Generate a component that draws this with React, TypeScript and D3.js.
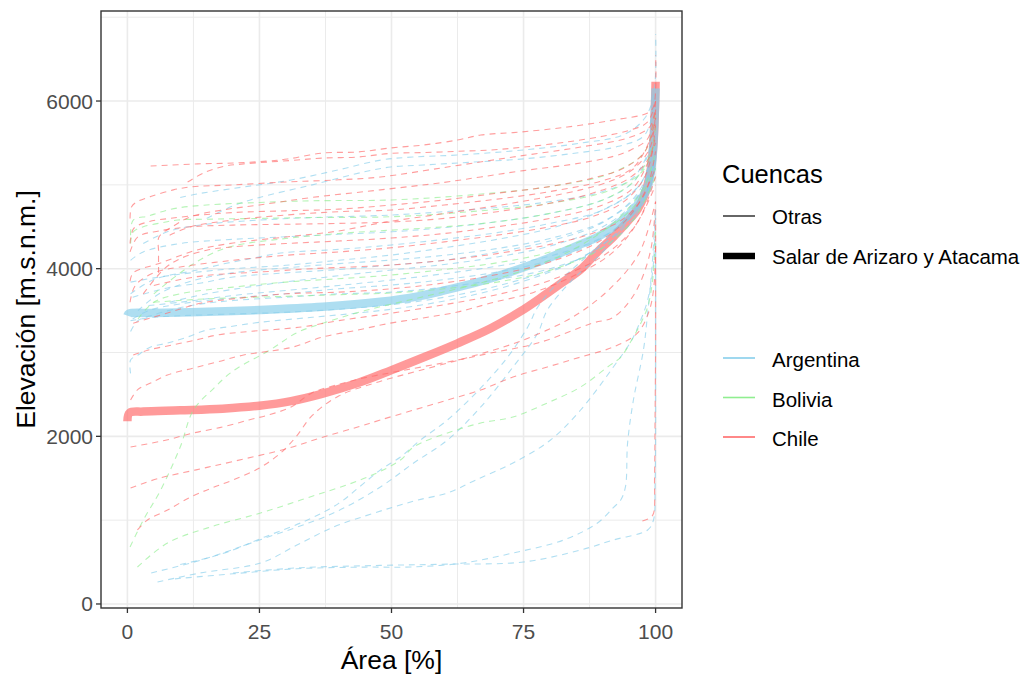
import React from "react";
import * as d3 from "d3";

type Pt = [number, number];

// Hypsometric curves: [area %, elevation m a.s.l.]
const argentinaBasins: Pt[][] = [
  [[0.6, 2750], [0.6, 2910], [2, 2970], [4.4, 3066], [7.6, 3113], [11.4, 3185], [15, 3268], [19, 3305], [25, 3360], [35, 3420], [45, 3480], [55, 3560], [65, 3680], [75, 3850], [85, 4100], [93, 4450], [98, 4900], [100, 5400]],
  [[0.6, 3250], [2, 3380], [5, 3450], [9, 3520], [14, 3580], [20, 3620], [30, 3660], [40, 3700], [50, 3720], [60, 3780], [70, 3870], [80, 4000], [90, 4250], [96, 4600], [100, 5200]],
  [[0.6, 3840], [6, 3900], [12, 3950], [20, 4000], [30, 4040], [40, 4100], [50, 4163], [60, 4250], [70, 4350], [80, 4480], [90, 4700], [97, 5000], [100, 5500]],
  [[1, 3660], [7.6, 3770], [14, 3830], [20, 3900], [30, 3950], [40, 3990], [50, 4044], [60, 4100], [70, 4200], [80, 4330], [90, 4550], [97, 4900], [100, 5300]],
  [[4, 3560], [10, 3600], [20, 3680], [30, 3740], [40, 3800], [50, 3865], [60, 3940], [70, 4030], [80, 4150], [90, 4380], [97, 4750], [100, 5200]],
  [[0.6, 3700], [5, 3870], [13.3, 3984], [19, 4068], [24, 4127], [29, 4187], [40, 4230], [50, 4283], [60, 4350], [70, 4430], [80, 4540], [90, 4700], [97, 5000], [100, 5500]],
  [[10, 4850], [14, 4900], [22, 4975], [31, 5058], [40, 5180], [48, 5296], [54, 5332], [62.5, 5356], [75, 5416], [86, 5500], [94, 5600], [98, 5800], [99.7, 6100], [100, 6800]],
  [[15, 4600], [20, 4750], [25, 4850], [35, 5000], [44.7, 5153], [49.8, 5213], [56, 5237], [65, 5270], [75, 5310], [85, 5380], [93, 5460], [98, 5600], [100, 6100]],
  [[3, 4300], [8, 4450], [15, 4530], [25, 4580], [35, 4610], [50, 4640], [60, 4680], [70, 4730], [80, 4800], [90, 4920], [96, 5100], [100, 5600]],
  [[2, 3500], [6, 3700], [12, 3850], [20, 3950], [30, 4010], [40, 4060], [50, 4103], [60, 4160], [70, 4240], [80, 4360], [90, 4560], [96, 4850], [100, 5300]],
  [[1, 3400], [4, 3500], [10, 3580], [20, 3650], [30, 3700], [40, 3760], [50, 3805], [60, 3870], [70, 3960], [80, 4100], [88, 4300], [95, 4620], [99, 5000], [100, 5400]],
  [[8, 3600], [15, 3700], [25, 3800], [35, 3880], [50, 3984], [60, 4050], [70, 4140], [80, 4270], [90, 4500], [96, 4800], [100, 5300]],
  [[0.6, 4100], [3, 4200], [10, 4300], [20, 4350], [30, 4380], [40, 4410], [50, 4440], [60, 4490], [70, 4560], [80, 4660], [90, 4820], [96, 5050], [100, 5600]],
  [[0.6, 3380], [5, 3420], [15, 3450], [30, 3480], [45, 3540], [55, 3610], [65, 3720], [75, 3880], [85, 4100], [92, 4380], [97, 4700], [100, 5200]],
  [[4.5, 370], [14, 525], [25, 763], [39, 1085], [47.9, 1396], [54.2, 1682], [60.6, 1956], [66.9, 2350], [73, 2827], [77.7, 3233], [79.5, 3507], [84, 3850], [90, 4200], [95, 4600], [99, 5000], [100, 5500]],
  [[5.7, 262], [13.8, 370], [25.2, 489], [32, 700], [39, 918], [45, 1050], [50.4, 1157], [55, 1240], [60.6, 1324], [66, 1480], [73, 1682], [80, 1950], [85.8, 2314], [92, 2827], [95.5, 3150], [97.2, 3388], [98.5, 3626], [99.5, 4000], [100, 4700]],
  [[10, 470], [18, 600], [26, 800], [34, 1000], [40, 1200], [44, 1400], [47.9, 1600], [51.7, 1754], [55.5, 1956], [60.6, 2195], [66.9, 2577], [72, 2946], [75.8, 3305], [77.7, 3543], [81, 3800], [87, 4150], [93, 4500], [98, 4900], [100, 5300]],
  [[9, 300], [20, 360], [32, 420], [45, 440], [53.6, 441], [63.6, 489], [73, 608], [82.6, 763], [89, 966], [92, 1150], [93.4, 1240], [94.3, 1400], [94.7, 1920], [95.8, 2433], [97.7, 3030], [98.5, 3471], [99.3, 4000], [100, 4700]],
  [[20, 370], [32.8, 433], [47.9, 460], [60.6, 475], [75, 501], [85.8, 644], [92, 763], [98.5, 883], [99.6, 1002], [99.9, 1400], [100, 2040], [100, 2600], [100, 3400], [100, 4300]],
];

const boliviaBasins: Pt[][] = [
  [[0.5, 680], [3, 1000], [6.3, 1360], [10, 1873], [12.5, 2314], [16.3, 2570], [20, 2780], [27, 3030], [32, 3233], [37, 3350], [45, 3500], [55, 3650], [65, 3800], [75, 3980], [85, 4250], [93, 4600], [98, 5000], [100, 5400]],
  [[1.9, 441], [7.6, 728], [15.7, 918], [25.2, 1085], [32.8, 1240], [45.5, 1515], [51.7, 1718], [54.2, 1873], [60.6, 2040], [66.9, 2159], [73, 2230], [79.5, 2398], [85.8, 2589], [90.9, 2827], [93.4, 2946], [95.8, 3185], [97.2, 3350], [98.5, 3543], [99.5, 3900], [100, 4500]],
  [[0.6, 4400], [1.1, 4580], [4, 4628], [6.3, 4676], [9.5, 4724], [15, 4760], [25, 4790], [35, 4810], [50, 4820], [65, 4880], [80, 4980], [92, 5150], [98, 5400], [100, 5900]],
  [[0.6, 4300], [1.1, 4440], [3, 4500], [6.3, 4545], [9.5, 4580], [15, 4590], [25, 4600], [35, 4610], [50, 4620], [65, 4680], [80, 4780], [92, 4950], [98, 5200], [100, 5700]],
  [[5, 3700], [10, 3950], [15, 4150], [20, 4270], [30, 4360], [40, 4420], [50, 4460], [60, 4500], [70, 4560], [80, 4660], [90, 4820], [96, 5050], [100, 5500]],
  [[2, 3400], [5, 3600], [10, 3700], [20, 3780], [30, 3840], [40, 3880], [50, 3925], [60, 3990], [70, 4070], [80, 4200], [90, 4450], [96, 4750], [100, 5200]],
  [[5, 3600], [15, 3640], [30, 3670], [40, 3690], [50, 3710], [60, 3760], [70, 3840], [80, 3980], [90, 4250], [96, 4600], [100, 5100]],
];

const chileBasins: Pt[][] = [
  [[4.4, 5225], [13.3, 5250], [20, 5260], [26.5, 5284], [30.3, 5308], [37, 5380], [43.6, 5392], [49.8, 5440], [56, 5475], [62.5, 5535], [66.9, 5594], [74.4, 5630], [83.3, 5690], [92, 5773], [98.5, 5857], [99.6, 5930], [100, 6550]],
  [[11.4, 5034], [14.4, 5141], [18.2, 5220], [22, 5250], [30.9, 5290], [37, 5320], [43.6, 5332], [49.8, 5375], [56, 5385], [62.5, 5400], [68.8, 5416], [75, 5450], [83, 5510], [90, 5580], [95, 5650], [98.5, 5750], [100, 6000]],
  [[0.5, 4600], [0.8, 4740], [1.9, 4800], [4.4, 4860], [8.7, 4940], [12, 4975], [20, 5000], [30, 5034], [40, 5060], [47.9, 5094], [60.6, 5213], [73, 5332], [85.8, 5451], [95.3, 5570], [99, 5700], [100, 6000]],
  [[5.9, 3950], [5.9, 4200], [6, 4380], [8.5, 4500], [12, 4620], [18, 4700], [25, 4760], [35, 4850], [47.9, 4940], [60, 5030], [66.9, 5094], [75, 5170], [85.8, 5260], [92, 5340], [95.3, 5416], [98.5, 5550], [100, 5900]],
  [[0.5, 4300], [1.2, 4480], [4, 4560], [8, 4600], [14, 4640], [20, 4670], [30, 4690], [40, 4710], [50, 4760], [60, 4820], [70, 4900], [80, 4980], [88, 5080], [94, 5200], [98, 5400], [100, 5800]],
  [[0.5, 3850], [1.1, 3950], [6.3, 4068], [13, 4220], [20, 4306], [30, 4378], [40, 4450], [47.9, 4545], [60.6, 4664], [73, 4783], [85.8, 4940], [92, 5058], [96, 5200], [99, 5450], [100, 5900]],
  [[1.1, 3350], [4.4, 3412], [7.6, 3471], [10.6, 3530], [14, 3590], [20, 3640], [30, 3700], [40, 3720], [50, 3760], [60, 3830], [70, 3930], [80, 4080], [90, 4350], [96, 4700], [100, 5200]],
  [[0.6, 2433], [2, 2560], [4.4, 2636], [7.6, 2732], [12.5, 2815], [17, 2887], [22, 2970], [31, 3060], [37, 3185], [43.6, 3268], [49.8, 3350], [56, 3412], [62.5, 3483], [68.8, 3590], [77, 3720], [85, 3930], [92, 4200], [97, 4600], [100, 5100]],
  [[1.1, 2970], [4, 3030], [8.5, 3090], [13, 3150], [17, 3209], [22, 3245], [33, 3305], [40, 3380], [50, 3470], [60, 3570], [70, 3690], [80, 3860], [90, 4150], [96, 4500], [100, 5000]],
  [[0.6, 1873], [7, 1950], [12.5, 2040], [18, 2111], [23, 2195], [27, 2260], [31, 2350], [35, 2520], [40, 2620], [45, 2700], [50, 2760], [62.5, 2910], [68.8, 2994], [77.7, 3113], [88, 3350], [92, 3420], [96, 3700], [99, 4200], [100, 4800]],
  [[0.6, 1384], [6, 1500], [13, 1600], [20, 1700], [30, 1850], [37, 1990], [43.6, 2111], [47.9, 2195], [54.2, 2314], [60.6, 2433], [66.9, 2553], [73, 2708], [79.5, 2827], [85.8, 2946], [92, 3066], [96.6, 3233], [98.8, 3500], [99.7, 3800], [100, 4300]],
  [[1.9, 883], [3.8, 1002], [7.6, 1121], [12, 1276], [16, 1384], [20, 1480], [25, 1622], [29, 1800], [32, 2000], [35, 2250], [40, 2480], [47, 2640], [55, 2780], [65, 2950], [75, 3150], [85, 3450], [92, 3800], [97, 4200], [100, 4800]],
  [[0.5, 3600], [1.5, 3800], [5, 3950], [10, 4020], [20, 4100], [30, 4160], [40, 4200], [50, 4250], [60, 4320], [70, 4400], [80, 4500], [88, 4620], [94, 4800], [98, 5100], [100, 5600]],
  [[5, 3800], [10, 3870], [15, 3920], [25, 3960], [35, 4000], [50, 4044], [60, 4100], [70, 4180], [80, 4290], [88, 4420], [94, 4600], [98, 4900], [100, 5400]],
  [[0.5, 4200], [2, 4380], [6, 4450], [12, 4500], [20, 4520], [30, 4530], [40, 4540], [50, 4557], [60, 4600], [70, 4680], [80, 4780], [88, 4900], [95, 5080], [99, 5350], [100, 5800]],
  [[3, 3700], [7, 4000], [10, 4120], [15, 4220], [20, 4260], [30, 4300], [40, 4330], [50, 4366], [60, 4420], [70, 4500], [80, 4600], [90, 4760], [96, 4980], [100, 5500]],
  [[8, 4400], [12, 4500], [20, 4580], [30, 4640], [40, 4680], [50, 4700], [60, 4760], [70, 4830], [80, 4920], [90, 5050], [96, 5220], [100, 5700]],
  [[97.5, 990], [99, 1030], [99.6, 1080], [99.8, 1500], [99.9, 2200], [100, 3000], [100, 3600], [100, 4000], [100, 4600]],
];

// Highlighted basins
const salarArizaro: Pt[] = [[0, 3440], [0.3, 3465], [5, 3470], [12, 3480], [25, 3507], [37, 3545], [47.9, 3605], [55, 3670], [60, 3740], [66.9, 3850], [72, 3950], [79.5, 4120], [85, 4270], [89, 4378], [92.5, 4520], [95.3, 4664], [97, 4800], [98.5, 4974], [99.3, 5250], [99.6, 5500], [100, 6150]];
const salarAtacama: Pt[] = [[0, 2180], [0.4, 2280], [3, 2295], [10, 2310], [18, 2330], [25, 2365], [31, 2420], [37, 2510], [43.6, 2636], [50, 2790], [56, 2940], [62.5, 3110], [68.8, 3290], [74.4, 3490], [78.2, 3650], [82, 3820], [85.8, 3990], [89, 4200], [92, 4378], [94.5, 4550], [96.6, 4710], [98, 4900], [99, 5150], [99.6, 5500], [100, 6230]];

const xTicks = [0, 25, 50, 75, 100];
const xMinor = [12.5, 37.5, 62.5, 87.5];
const yTicks = [0, 2000, 4000, 6000];
const yMinor = [1000, 3000, 5000, 7000];

const countries = ["Argentina", "Bolivia", "Chile"];
const countryColors = ["#87CEEB", "#90EE90", "#FF6A6A"];
const widthLabels = ["Otras", "Salar de Arizaro y Atacama"];

const FONT = "'Liberation Sans', Arial, Helvetica, sans-serif";

export default function App() {
  const W = 1030;
  const H = 678;
  const left = 101;
  const right = 682;
  const top = 11;
  const bottom = 608;

  const x = d3.scaleLinear().domain([-5, 105]).range([left, right]);
  const y = d3.scaleLinear().domain([-48, 7074]).range([bottom, top]);

  const line = d3
    .line<Pt>()
    .x((d) => x(d[0]))
    .y((d) => y(d[1]))
    .curve(d3.curveCatmullRom.alpha(0.5));

  const color = d3.scaleOrdinal<string, string>().domain(countries).range(countryColors);

  const groups: { country: string; curves: Pt[][] }[] = [
    { country: "Argentina", curves: argentinaBasins },
    { country: "Bolivia", curves: boliviaBasins },
    { country: "Chile", curves: chileBasins },
  ];

  const grid = "#EBEBEB";
  const dark = "#333333";

  return (
    <svg
      width={W}
      height={H}
      viewBox={`0 0 ${W} ${H}`}
      style={{ position: "absolute", left: 0, top: 0, background: "#fff" }}
      fontFamily={FONT}
    >
      <rect x={0} y={0} width={W} height={H} fill="#fff" />
      <defs>
        <clipPath id="panel">
          <rect x={left} y={top} width={right - left} height={bottom - top} />
        </clipPath>
      </defs>

      {/* grid */}
      {xMinor.map((v) => (
        <line key={"xm" + v} x1={x(v)} x2={x(v)} y1={top} y2={bottom} stroke={grid} strokeWidth={1} />
      ))}
      {yMinor.map((v) => (
        <line key={"ym" + v} x1={left} x2={right} y1={y(v)} y2={y(v)} stroke={grid} strokeWidth={1} />
      ))}
      {xTicks.map((v) => (
        <line key={"xg" + v} x1={x(v)} x2={x(v)} y1={top} y2={bottom} stroke={grid} strokeWidth={1.6} />
      ))}
      {yTicks.map((v) => (
        <line key={"yg" + v} x1={left} x2={right} y1={y(v)} y2={y(v)} stroke={grid} strokeWidth={1.6} />
      ))}

      <g clipPath="url(#panel)">
        {/* highlighted basins */}
        <path d={line(salarAtacama) || ""} fill="none" stroke={color("Chile")} strokeOpacity={0.68} strokeWidth={8.5} strokeLinecap="butt" />
        <path d={line(salarArizaro) || ""} fill="none" stroke={color("Argentina")} strokeOpacity={0.68} strokeWidth={8.5} strokeLinecap="butt" />

        {/* other basins */}
        {groups.map((g) =>
          g.curves.map((c, i) => (
            <path
              key={g.country + i}
              d={line(c) || ""}
              fill="none"
              stroke={color(g.country)}
              strokeOpacity={0.65}
              strokeWidth={1.1}
              strokeDasharray="6 5"
            />
          ))
        )}
      </g>

      {/* panel border */}
      <rect x={left} y={top} width={right - left} height={bottom - top} fill="none" stroke={dark} strokeWidth={1.4} />

      {/* x axis */}
      {xTicks.map((v) => (
        <g key={"xt" + v}>
          <line x1={x(v)} x2={x(v)} y1={bottom} y2={bottom + 5} stroke={dark} strokeWidth={1.3} />
          <text x={x(v)} y={639} textAnchor="middle" fontSize={21} fill="#4D4D4D">
            {v}
          </text>
        </g>
      ))}
      {/* y axis */}
      {yTicks.map((v) => (
        <g key={"yt" + v}>
          <line x1={left - 5} x2={left} y1={y(v)} y2={y(v)} stroke={dark} strokeWidth={1.3} />
          <text x={93} y={y(v) + 7.5} textAnchor="end" fontSize={21} fill="#4D4D4D">
            {v}
          </text>
        </g>
      ))}

      <text x={(left + right) / 2} y={669} textAnchor="middle" fontSize={26.5} fill="#000">
        Área [%]
      </text>
      <text
        transform={`translate(35, ${(top + bottom) / 2}) rotate(-90)`}
        textAnchor="middle"
        fontSize={26.5}
        fill="#000"
      >
        Elevación [m.s.n.m.]
      </text>

      {/* legend */}
      <text x={722} y={183} fontSize={25.5} fill="#000">
        Cuencas
      </text>
      {widthLabels.map((lab, i) => {
        const cy = i === 0 ? 216 : 256;
        return (
          <g key={lab}>
            <line x1={723} x2={755} y1={cy} y2={cy} stroke={i === 0 ? "#333" : "#000"} strokeWidth={i === 0 ? 1.5 : 6.5} />
            <text x={772} y={cy + 8} fontSize={20.5} fill="#000">
              {lab}
            </text>
          </g>
        );
      })}
      {countries.map((c, i) => {
        const cy = 358 + i * 39.5;
        return (
          <g key={c}>
            <line x1={723} x2={755} y1={cy} y2={cy} stroke={color(c)} strokeWidth={1.6} />
            <text x={772} y={cy + 9} fontSize={20.5} fill="#000">
              {c}
            </text>
          </g>
        );
      })}
    </svg>
  );
}
